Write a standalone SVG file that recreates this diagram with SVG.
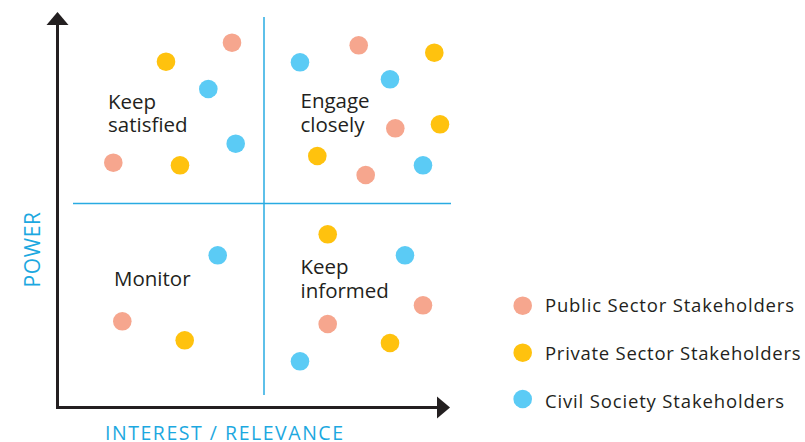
<svg xmlns="http://www.w3.org/2000/svg" width="805" height="442" viewBox="0 0 805 442">
<style>
.pub{fill:#f6a68e}
.pri{fill:#ffc20e}
.civ{fill:#5bcbf5}
.lbl{font-family:"Open Sans","Lato",sans-serif;font-size:20.5px;fill:#231f20}
.leg{font-family:"Open Sans","Lato",sans-serif;font-size:18.5px;fill:#231f20}
.ax{font-family:"Open Sans","Lato",sans-serif;font-size:19.5px;fill:#1ca8e0}
.q{stroke:#29abe2;stroke-width:1.5;fill:none}
.axis{stroke:#231f20;stroke-width:3;fill:none}
</style>
<rect width="805" height="442" fill="#ffffff"/>
<g id="connectors">
<line class="q" x1="264" y1="17" x2="264" y2="395"/>
<line class="q" x1="73" y1="203.5" x2="451" y2="203.5"/>
<line class="axis" x1="57.5" y1="408.5" x2="57.5" y2="22"/>
<polygon points="57.5,12 46.5,25 68.5,25" fill="#231f20"/>
<line class="axis" x1="56" y1="407.5" x2="440" y2="407.5"/>
<polygon points="450,407.5 437,396.5 437,418.5" fill="#231f20"/>
</g>
<g id="axis-labels">
<text class="ax" x="105" y="440" textLength="238" lengthAdjust="spacing">INTEREST / RELEVANCE</text>
<text class="ax" transform="translate(40,287.5) rotate(-90)" style="font-size:21px" textLength="75.5" lengthAdjust="spacing">POWER</text>
</g>
<g id="keep-satisfied">
<text class="lbl"><tspan x="108" y="109">Keep</tspan><tspan x="108" y="132">satisfied</tspan></text>
<circle class="pub" cx="232" cy="42.7" r="9.3"/>
<circle class="pri" cx="166" cy="61.7" r="9.3"/>
<circle class="civ" cx="208.3" cy="89" r="9.3"/>
<circle class="civ" cx="235.7" cy="143.7" r="9.3"/>
<circle class="pub" cx="113.3" cy="162.7" r="9.3"/>
<circle class="pri" cx="180" cy="165.3" r="9.3"/>
</g>
<g id="engage-closely">
<text class="lbl"><tspan x="300.5" y="108">Engage</tspan><tspan x="300.5" y="132">closely</tspan></text>
<circle class="civ" cx="300" cy="62.3" r="9.3"/>
<circle class="pub" cx="358.7" cy="45.3" r="9.3"/>
<circle class="pri" cx="434.3" cy="52.7" r="9.3"/>
<circle class="civ" cx="390" cy="79.3" r="9.3"/>
<circle class="pub" cx="395.3" cy="128.3" r="9.3"/>
<circle class="pri" cx="440" cy="124.3" r="9.3"/>
<circle class="pri" cx="317.3" cy="156" r="9.3"/>
<circle class="pub" cx="365.7" cy="175" r="9.3"/>
<circle class="civ" cx="423" cy="165.3" r="9.3"/>
</g>
<g id="monitor">
<text class="lbl" x="114" y="286">Monitor</text>
<circle class="civ" cx="217.7" cy="255.3" r="9.3"/>
<circle class="pub" cx="122.3" cy="321.3" r="9.3"/>
<circle class="pri" cx="184.7" cy="340.3" r="9.3"/>
</g>
<g id="keep-informed">
<text class="lbl"><tspan x="300.5" y="273.5">Keep</tspan><tspan x="300.5" y="297.5">informed</tspan></text>
<circle class="pri" cx="327.7" cy="234.3" r="9.3"/>
<circle class="civ" cx="405" cy="255.3" r="9.3"/>
<circle class="pub" cx="423" cy="305.3" r="9.3"/>
<circle class="pub" cx="327.7" cy="324" r="9.3"/>
<circle class="pri" cx="390" cy="343" r="9.3"/>
<circle class="civ" cx="300" cy="361.3" r="9.3"/>
</g>
<g id="legend">
<g id="legend-public"><circle class="pub" cx="522.7" cy="305.7" r="9.3"/><text class="leg" x="545" y="312" textLength="249" lengthAdjust="spacing">Public Sector Stakeholders</text></g>
<g id="legend-private"><circle class="pri" cx="522.7" cy="352.7" r="9.3"/><text class="leg" x="545" y="360" textLength="255.5" lengthAdjust="spacing">Private Sector Stakeholders</text></g>
<g id="legend-civil"><circle class="civ" cx="522.7" cy="399" r="9.3"/><text class="leg" x="545" y="408" textLength="239" lengthAdjust="spacing">Civil Society Stakeholders</text></g>
</g>
</svg>
